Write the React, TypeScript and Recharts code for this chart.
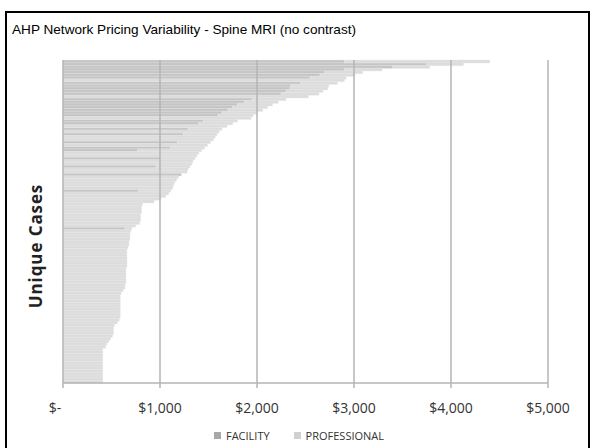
import React from 'react'
import { BarChart, Bar, XAxis, YAxis, ReferenceLine } from 'recharts'

// unique cases, sorted by total price (top = most expensive)
const facility = [
  2900, 3750, 3400, 2900, 2700, 2650, 2550, 0, 2450, 2350,
  2340, 2300, 2250, 0, 1950, 1870, 1800, 1750, 1700, 1640,
  1600, 0, 1450, 1400, 0, 1290, 0, 1240, 0, 0,
  1180, 0, 1110, 770, 0, 0, 1010, 0, 0, 960,
  0, 0, 1220, 0, 0, 0, 0, 0, 780, 0,
  0, 0, 0, 0, 0, 0, 0, 0, 0, 0,
  0, 0, 640, 0, 0, 0, 0, 0, 0, 0,
  0, 0, 0, 0, 0, 0, 0, 0, 0, 0,
  0, 0, 0, 0, 0, 0, 0, 0, 0, 0,
  0, 0, 0, 0, 0, 0, 0, 0, 0, 0,
  0, 0, 0, 0, 0, 0, 0, 0, 0, 0,
  0, 0, 0, 0, 0, 0, 0, 0, 0, 0,
]

const professional = [
  1500, 380, 380, 390, 390, 360, 370, 2900, 380, 390,
  390, 380, 390, 2530, 350, 350, 360, 360, 360, 360,
  360, 1940, 350, 350, 1690, 350, 1610, 350, 1570, 1550,
  340, 1490, 350, 660, 1400, 1380, 350, 1340, 1330, 350,
  1290, 1280, 0, 1190, 1170, 1150, 1140, 1130, 330, 1090,
  1060, 1010, 940, 820, 810, 810, 810, 800, 800, 800,
  790, 750, 70, 700, 690, 690, 690, 680, 680, 670,
  660, 660, 660, 660, 660, 660, 660, 650, 650, 650,
  650, 650, 650, 640, 640, 620, 600, 590, 590, 590,
  590, 590, 590, 590, 590, 590, 580, 560, 530, 520,
  520, 520, 510, 490, 470, 450, 440, 410, 410, 410,
  410, 410, 410, 410, 410, 410, 410, 410, 410, 410,
]

const cases = facility.map((_, i) => `Case ${i + 1}`)
const priceTicks = [0, 1000, 2000, 3000, 4000, 5000]

const data = cases.map((id, i) => ({ id, facility: facility[i], professional: professional[i] }))

const FACILITY_COLOR = '#c4c4c4'
const PROFESSIONAL_COLOR = '#dcdcdc'
const GRID = '#b4b4b4'

function fmtPrice(v: number): string {
  if (v === 0) return '$-'
  return '$' + v.toLocaleString('en-US')
}

function PriceTick(props: any) {
  const { x, y, payload } = props
  const shift = payload.value === 0 ? -8 : 0
  return (
    <text x={x + shift} y={y} dy="0.71em" textAnchor="middle" fontSize={14} fill="#333" fontFamily='"Open Sans", sans-serif'>
      {fmtPrice(payload.value)}
    </text>
  )
}

export default function App() {
  return (
    <div style={{ position: 'absolute', left: 0, top: 0, width: 594, height: 448, background: '#fff', overflow: 'hidden' }}>
      <div style={{ position: 'absolute', left: 5, top: 11, width: 585, height: 460, border: '2px solid #000', boxSizing: 'border-box' }} />
      <div style={{ position: 'absolute', left: 12, top: 22, fontFamily: '"Liberation Sans", Arial, sans-serif', fontSize: 13.6, color: '#000' }}>
        AHP Network Pricing Variability - Spine MRI (no contrast)
      </div>
      <div
        style={{
          position: 'absolute', left: 35, top: 246, transform: 'translate(-50%, -50%) rotate(-90deg)',
          fontFamily: '"Open Sans", sans-serif', fontWeight: 700, fontSize: 17, letterSpacing: 0.9, color: '#222', whiteSpace: 'nowrap',
        }}
      >
        Unique Cases
      </div>
      <BarChart
        width={594}
        height={448}
        data={data}
        layout="vertical"
        margin={{ top: 60, right: 46, bottom: 35, left: 63 }}
        barCategoryGap={0}
        style={{ position: 'absolute', left: 0, top: 0 }}
      >
        <XAxis
          type="number"
          domain={[0, 5000]}
          ticks={priceTicks}
          interval={0}
          height={30}
          axisLine={{ stroke: GRID, strokeWidth: 1.5 }}
          tickLine={{ stroke: GRID, strokeWidth: 1.5 }}
          tickSize={5}
          tickMargin={15}
          tick={<PriceTick />}
        />
        <YAxis type="category" dataKey="id" hide width={0} />
        <Bar dataKey="facility" stackId="a" fill={FACILITY_COLOR} stroke="#ebebeb" strokeWidth={0.4} isAnimationActive={false} />
        <Bar dataKey="professional" stackId="a" fill={PROFESSIONAL_COLOR} stroke="#ebebeb" strokeWidth={0.4} isAnimationActive={false} />
        {priceTicks.map(t => (
          <ReferenceLine key={t} x={t} stroke={GRID} strokeWidth={1.5} />
        ))}
      </BarChart>
      <div style={{ position: 'absolute', left: 2, top: 428, width: 594, display: 'flex', justifyContent: 'center', gap: 24, fontFamily: '"Open Sans", sans-serif', fontSize: 11, color: '#333' }}>
        <span style={{ display: 'flex', alignItems: 'center', gap: 5 }}>
          <span style={{ width: 7, height: 7, background: '#a8a8a8', display: 'inline-block' }} />FACILITY
        </span>
        <span style={{ display: 'flex', alignItems: 'center', gap: 5 }}>
          <span style={{ width: 7, height: 7, background: '#d0d0d0', display: 'inline-block' }} />PROFESSIONAL
        </span>
      </div>
    </div>
  )
}
